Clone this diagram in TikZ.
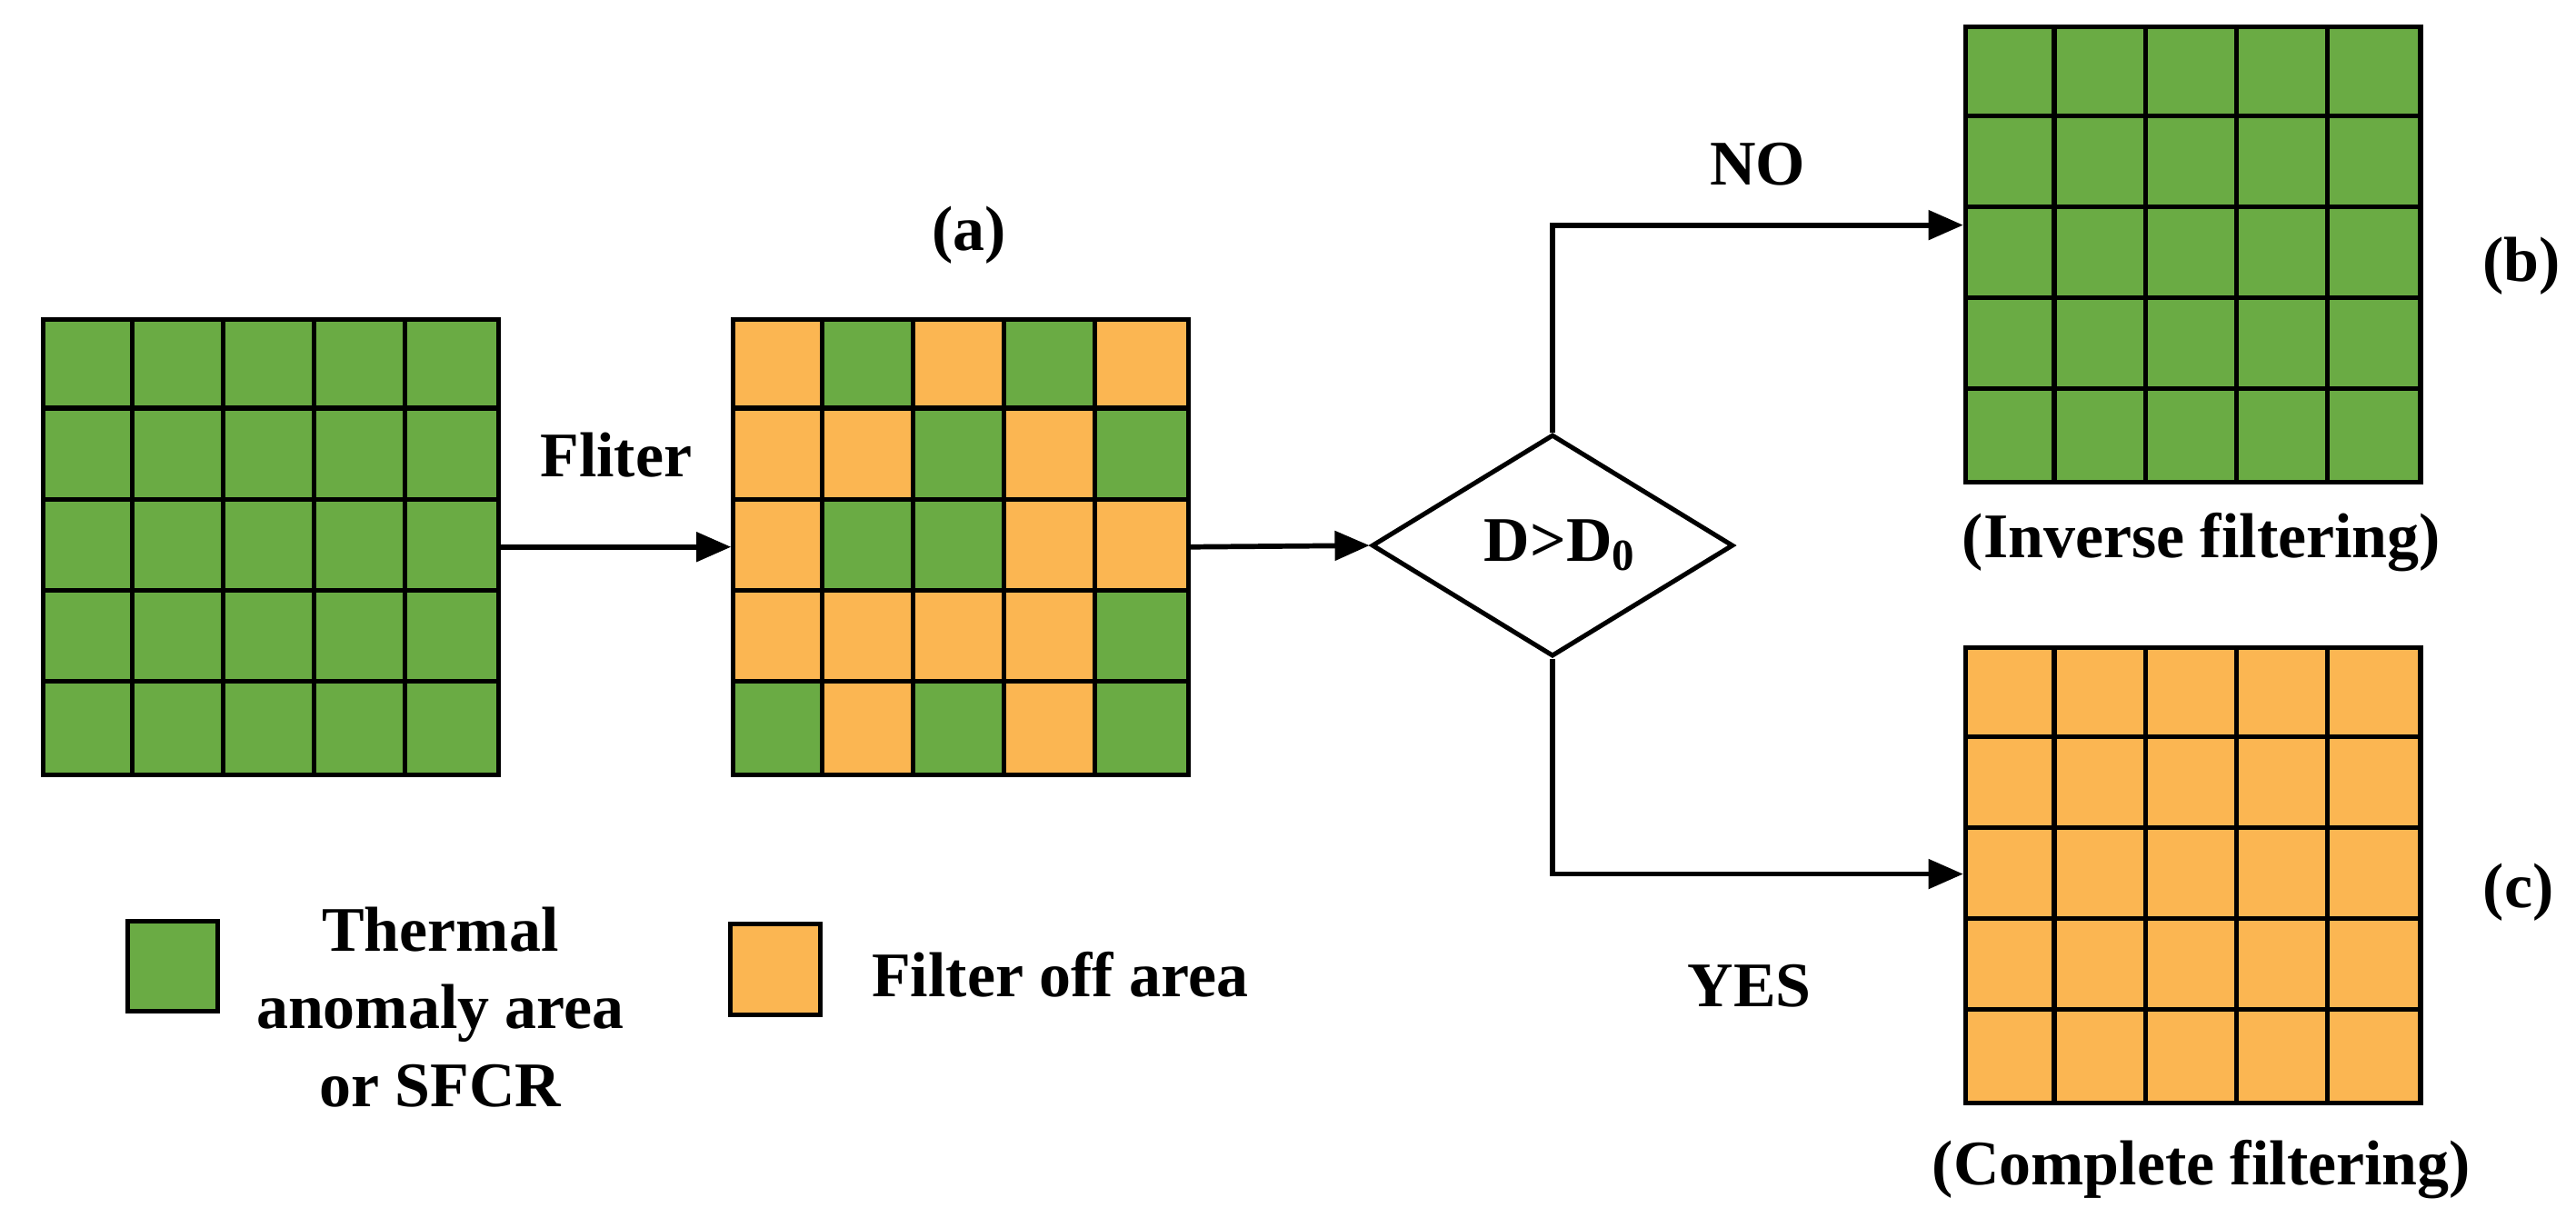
\documentclass[tikz,border=0pt]{standalone}
\usepackage{fontspec}
\setmainfont{Liberation Serif}
\usetikzlibrary{shapes.geometric,arrows.meta}
\definecolor{gr}{HTML}{6AAB44}
\definecolor{og}{HTML}{FBB652}
\begin{document}
\begin{tikzpicture}[x=0.01cm,y=-0.01cm,
  txt/.style={font=\fontsize{11}{13.5}\selectfont\bfseries,inner sep=0pt},
  arr/.style={line width=0.9pt,-{Triangle[length=6pt,width=5pt]}},
  cell/.style={draw=black,line width=0.8pt}]
\useasboundingbox (0,0) rectangle (1568,747);
% grid helper
\newcommand{\mygrid}[4]{% x,y,name,pattern list
  \foreach \r [count=\i from 0] in {#4}{
    \foreach \c [count=\j from 0] in \r {
      \fill[\c] ({#1+\j*55.4},{#2+\i*55.4}) rectangle ++(55.4,55.4);
    }}
  \foreach \k in {1,...,4}{
    \draw[line width=0.8pt] ({#1+\k*55.4},#2) -- ++(0,277);
    \draw[line width=0.8pt] (#1,{#2+\k*55.4}) -- ++(277,0);}
  \node[draw=black,line width=0.8pt,minimum width=277*0.01cm,minimum height=277*0.01cm,inner sep=0pt,anchor=north west] (#3) at (#1,#2) {};
}
\def\G{{gr,gr,gr,gr,gr}}
\def\O{{og,og,og,og,og}}
\mygrid{25}{193}{g0}{{gr,gr,gr,gr,gr},{gr,gr,gr,gr,gr},{gr,gr,gr,gr,gr},{gr,gr,gr,gr,gr},{gr,gr,gr,gr,gr}}
\mygrid{445}{193}{ga}{{og,gr,og,gr,og},{og,og,gr,og,gr},{og,gr,gr,og,og},{og,og,og,og,gr},{gr,og,gr,og,gr}}
\mygrid{1195}{15}{gb}{{gr,gr,gr,gr,gr},{gr,gr,gr,gr,gr},{gr,gr,gr,gr,gr},{gr,gr,gr,gr,gr},{gr,gr,gr,gr,gr}}
\mygrid{1195}{393}{gc}{{og,og,og,og,og},{og,og,og,og,og},{og,og,og,og,og},{og,og,og,og,og},{og,og,og,og,og}}
\node[diamond,draw=black,line width=0.8pt,minimum width=220*0.01cm,minimum height=135*0.01cm,inner sep=0pt,aspect=1.63] (d) at (945,332) {};
\node[txt] (dl) at (950,332) {D>D\textsubscript{0}};
\draw[arr] (g0.east) -- (ga.west);
\draw[arr] (ga.east) -- (d.west);
\coordinate (cn) at (945,137);
\coordinate (cy) at (945,532);
\draw[arr] (d.north) -- (cn) -- (cn -| gb.west);
\draw[arr] (d.south) -- (cy) -- (cy -| gc.west);
\node[txt] (fl) at (375,277) {Fliter};
\node[txt] (la) at (590,143) {(a)};
\node[txt] (no) at (1070,100) {NO};
\node[txt] (yes) at (1065,600) {YES};
\node[txt] (lb) at (1535,162) {(b)};
\node[txt] (lc) at (1533,543) {(c)};
\node[txt] (inv) at (1340,330) {(Inverse filtering)};
\node[txt] (com) at (1340,712) {(Complete filtering)};
\node[cell,fill=gr,minimum width=55*0.01cm,minimum height=55*0.01cm,inner sep=0pt] (lg) at (105,588) {};
\node[cell,fill=og,minimum width=55*0.01cm,minimum height=55*0.01cm,inner sep=0pt] (lo) at (472,590) {};
\node[txt,align=center] (lgt) at (268,613) {Thermal\\anomaly area\\or SFCR};
\node[txt,anchor=west] (lot) at (530,593) {Filter off area};
\end{tikzpicture}
\end{document}
